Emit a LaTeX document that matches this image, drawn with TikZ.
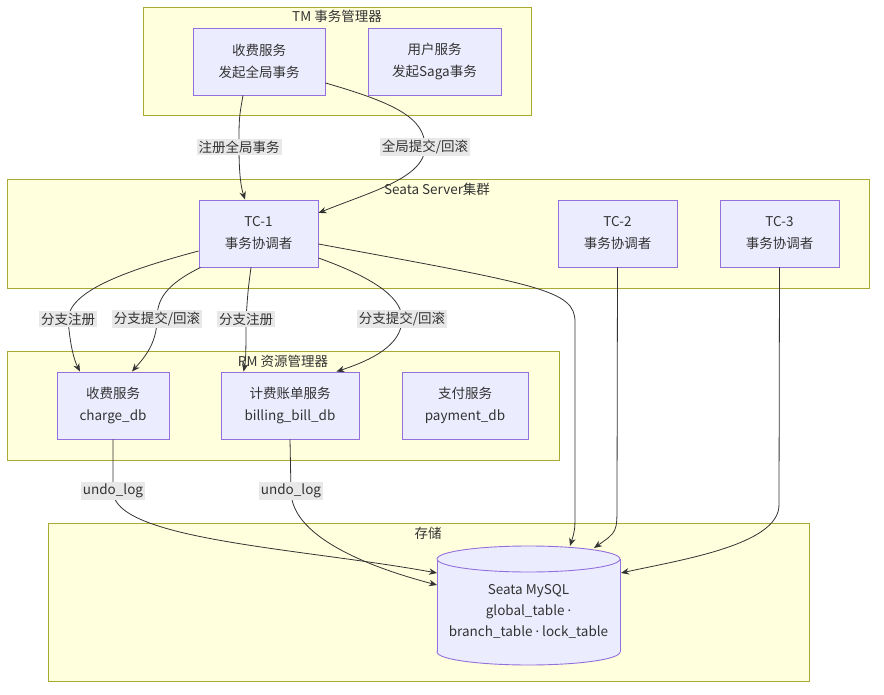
\documentclass[tikz,border=0pt]{standalone}
\usepackage{fontspec}
\setmainfont{Noto Sans CJK SC}
\newfontfamily\latinf{Noto Sans}
\usetikzlibrary{arrows.meta}
\pgfdeclarelayer{bg}\pgfdeclarelayer{fg}\pgfsetlayers{bg,main,fg}
\definecolor{nodefill}{HTML}{ECECFF}
\definecolor{nodeline}{HTML}{9370DB}
\definecolor{clfill}{HTML}{FFFFDE}
\definecolor{clline}{HTML}{AAAA33}
\definecolor{edgec}{HTML}{333333}
\definecolor{lblbg}{HTML}{E8E8E8}
\definecolor{txt}{HTML}{333333}
\tikzset{
 svc/.style={draw=nodeline, fill=nodefill, line width=0.9pt, align=center, text=txt,
   font=\fontsize{13.5}{22}\selectfont, inner sep=0pt},
 cluster/.style={draw=clline, fill=clfill, line width=0.9pt},
 ctitle/.style={text=txt, font=\fontsize{13.5}{16}\selectfont, inner sep=0pt},
 elabel/.style={fill=lblbg, text=txt, inner sep=2pt, font=\fontsize{13.5}{16}\selectfont},
 flow/.style={draw=edgec, line width=0.8pt, -{Stealth[length=8pt,width=6.5pt]}},
}
\begin{document}
\begin{tikzpicture}[x=1pt,y=-1pt]
\useasboundingbox (0,0) rectangle (884,695);
% clusters
\begin{pgfonlayer}{bg}
\fill[white] (0,0) rectangle (884,695);
\draw[cluster] (143,7) rectangle (531,115);
\draw[cluster] (7,179) rectangle (869,288);
\draw[cluster] (7,351) rectangle (559,460);
\draw[cluster] (48,523) rectangle (809,681);
\end{pgfonlayer}
\node[ctitle] (tmt) at (337,16) {TM 事务管理器};
\node[ctitle] (sst) at (437,189) {Seata Server集群};
\node[ctitle] (rmt) at (283,361) {RM 资源管理器};
\node[ctitle] (stt) at (428,533) {存储};
% nodes
\node[svc, minimum width=132pt, minimum height=67pt] (tm1) at (259,61.5) {收费服务\\发起全局事务};
\node[svc, minimum width=133pt, minimum height=67pt] (tm2) at (434.5,61.5) {用户服务\\发起Saga事务};
\node[svc, minimum width=119pt, minimum height=67pt] (tc1) at (258.5,233.5) {TC-1\\事务协调者};
\node[svc, minimum width=119pt, minimum height=67pt] (tc2) at (617.5,233.5) {TC-2\\事务协调者};
\node[svc, minimum width=119pt, minimum height=67pt] (tc3) at (779.5,233.5) {TC-3\\事务协调者};
\node[svc, minimum width=112pt, minimum height=67pt] (chg) at (113,405.5) {收费服务\\charge\_db};
\node[svc, minimum width=138pt, minimum height=67pt] (bill) at (290,405.5) {计费账单服务\\billing\_bill\_db};
\node[svc, minimum width=126pt, minimum height=67pt] (pay) at (465,405.5) {支付服务\\payment\_db};
% cylinder
\fill[nodefill] (528.5,652) ellipse [x radius=91.5pt, y radius=13pt];
\draw[nodeline, line width=0.9pt] (528.5,652) ellipse [x radius=91.5pt, y radius=13pt];
\fill[nodefill] (437,559) rectangle (620,652);
\draw[nodeline, line width=0.9pt] (437,559) -- (437,652) (620,559) -- (620,652);
\draw[nodeline, fill=nodefill, line width=0.9pt] (528.5,559) ellipse [x radius=91.5pt, y radius=13pt];
\node[align=center, text=txt, font=\fontsize{13.5}{21}\selectfont] (db) at (528.5,611) {Seata MySQL\\global\_table {\latinf ·}\\branch\_table {\latinf ·} lock\_table};
\coordinate (dbA) at (570,546);
\coordinate (dbB) at (594,548);
\coordinate (dbC) at (621,573);
\coordinate (dbD) at (437,573);
\coordinate (dbE) at (437,585);
% labels
\begin{pgfonlayer}{fg}
\node[elabel] (l1) at (239,147) {注册全局事务};
\node[elabel] (l2) at (425,147) {全局提交/回滚};
\node[elabel] (l3) at (68,319) {分支注册};
\node[elabel] (l4) at (157,319) {分支提交/回滚};
\node[elabel] (l5) at (246,319) {分支注册};
\node[elabel] (l6) at (402,319) {分支提交/回滚};
\node[elabel] (l7) at (113,491) {undo\_log};
\node[elabel] (l8) at (291,491) {undo\_log};
\end{pgfonlayer}
% edges
\draw[flow] ([xshift=-16pt]tm1.south) .. controls (239,118) .. (l1.center)
  .. controls (239,180) and (242,190) .. ([xshift=-13.5pt]tc1.north);
\draw[flow] ([yshift=-21.5pt]tm1.east) .. controls (395,103) and (425,118) .. (l2.center)
  .. controls (425,178) and (370,192) .. ([yshift=20.5pt]tc1.east);
\draw[flow] ([yshift=-17.5pt]tc1.west) .. controls (120,272) and (70,292) .. (l3.center)
  .. controls (70,345) and (74,360) .. ([xshift=-33pt]chg.north);
\draw[flow] ([xshift=2pt]tc1.south west) .. controls (165,285) and (157,300) .. (l4.center)
  .. controls (157,345) and (142,360) .. ([xshift=19pt]chg.north);
\draw[flow] ([xshift=-7.5pt]tc1.south) .. controls (248,290) .. (l5.center)
  .. controls (246,345) and (246,360) .. ([xshift=23pt]bill.north west);
\draw[flow] ([yshift=-24.5pt]tc1.east) .. controls (380,280) and (402,300) .. (l6.center)
  .. controls (402,345) and (372,360) .. ([xshift=-23pt]bill.north east);
\draw[flow] ([yshift=-10.5pt]tc1.east) .. controls (540,285) and (575,290) .. (575,322)
  -- (575,510) .. controls (575,530) .. (dbA);
\draw[flow] (tc2.south) -- (617,505) .. controls (617,532) .. (dbB);
\draw[flow] (tc3.south) -- (779,505) .. controls (779,545) and (680,560) .. (dbC);
\draw[flow] (chg.south) -- (l7.center) .. controls (113,540) and (300,548) .. (dbD);
\draw[flow] (bill.south) -- (l8.center) .. controls (291,540) and (380,570) .. (dbE);
\end{tikzpicture}
\end{document}
